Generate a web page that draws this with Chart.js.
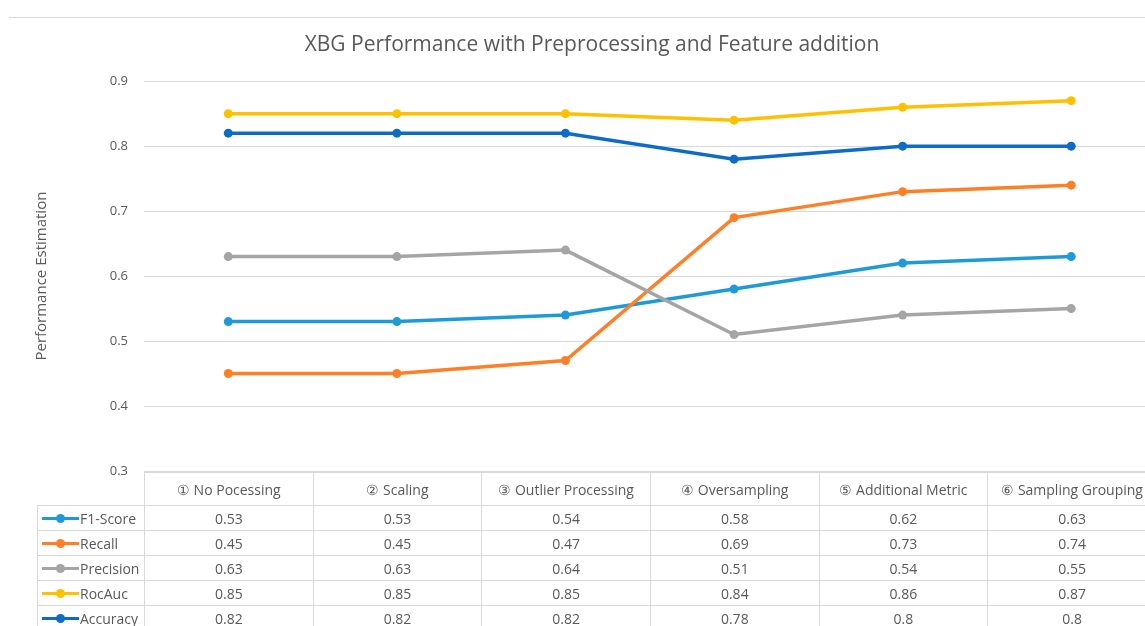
<!DOCTYPE html>
<html>
<head>
<meta charset="utf-8">
<script src="https://cdn.jsdelivr.net/npm/chart.js@4/dist/chart.umd.min.js"></script>
<style>
    html, body { margin: 0; padding: 0; background: #fff; overflow: hidden; }
    #wrap { position: relative; width: 1160px; height: 626px; }
    #topRule { position: absolute; left: 9px; top: 17px; width: 1151px; height: 1px; background: #d9d9d9; }
    #chart { position: absolute; left: 0; top: 0; }
    #dataTable {
        position: absolute; left: 37px; top: 472px;
        border-collapse: collapse; table-layout: fixed;
        font-family: "Open Sans", sans-serif; font-size: 14px; color: #595959;
    }
    #dataTable td { border: 1px solid #d9d9d9; text-align: center; padding: 0; height: 24px; white-space: nowrap; }
    #dataTable tr.head td { height: 32px; }
    #dataTable td.corner { border: none; }
    #dataTable td.key { text-align: left; padding-left: 4px; }
    .swatch { display: inline-block; position: relative; width: 37px; height: 3px; vertical-align: middle; margin-right: 1px; top: -1px; }
    .swatch::after { content: ''; position: absolute; left: 14px; top: -3px; width: 9px; height: 9px; border-radius: 50%; background: inherit; }
</style>
</head>
<body>
<div id="wrap">
    <div id="topRule"></div>
    <canvas id="chart" width="1160" height="626"></canvas>
    <table id="dataTable"></table>
</div>
<script>
const categories = ['① No Pocessing', '② Scaling', '③ Outlier Processing', '④ Oversampling', '⑤ Additional Metric', '⑥ Sampling Grouping'];
const f1Score   = [0.53, 0.53, 0.54, 0.58, 0.62, 0.63];
const recall    = [0.45, 0.45, 0.47, 0.69, 0.73, 0.74];
const precision = [0.63, 0.63, 0.64, 0.51, 0.54, 0.55];
const rocAuc    = [0.85, 0.85, 0.85, 0.84, 0.86, 0.87];
const accuracy  = [0.82, 0.82, 0.82, 0.78, 0.8, 0.8];
const yTicks    = [0.3, 0.4, 0.5, 0.6, 0.7, 0.8, 0.9];

const series = [
    { label: 'F1-Score',  data: f1Score,   color: '#1f9ad9' },
    { label: 'Recall',    data: recall,    color: '#ff7f27' },
    { label: 'Precision', data: precision, color: '#a5a5a5' },
    { label: 'RocAuc',    data: rocAuc,    color: '#ffc000' },
    { label: 'Accuracy',  data: accuracy,  color: '#0f6cc6' },
];

const FONT = '"Open Sans", sans-serif';
const TEXT = '#595959';

// left padding shifts the centred title right (Excel centres it a bit off the canvas middle);
// the y axis box is pinned so the plot starts where the table's first column does
const PAD_LEFT = 28;
const PLOT_LEFT = 144;
const PLOT_RIGHT = 1156;

new Chart(document.getElementById('chart'), {
    type: 'line',
    data: {
        labels: categories,
        datasets: series.map((s, i) => ({
            label: s.label,
            data: s.data,
            borderColor: s.color,
            backgroundColor: s.color,
            borderWidth: 3.5,
            pointRadius: 4.5,
            pointBorderWidth: 0,
            tension: 0,
            order: series.length - i,
        })),
    },
    options: {
        responsive: false,
        animation: false,
        devicePixelRatio: 1,
        layout: { padding: { left: PAD_LEFT, right: 1160 - PLOT_RIGHT, top: 0, bottom: 155 } },
        plugins: {
            legend: { display: false },
            tooltip: { enabled: false },
            title: {
                display: true,
                text: 'XBG Performance with Preprocessing and Feature addition',
                color: TEXT,
                font: { family: FONT, size: 21, weight: 'normal', lineHeight: 1.2 },
                padding: { top: 32, bottom: 24 },
            },
        },
        scales: {
            x: {
                display: false,
                offset: true,
            },
            y: {
                min: 0.3,
                max: 0.9,
                afterBuildTicks: axis => { axis.ticks = yTicks.map(v => ({ value: v })); },
                afterFit: axis => { axis.width = PLOT_LEFT - PAD_LEFT; },
                grid: { color: '#d9d9d9', drawTicks: false },
                border: { display: false },
                ticks: {
                    color: TEXT,
                    padding: 16,
                    font: { family: FONT, size: 13 },
                    callback: v => String(v),
                },
                title: {
                    display: true,
                    text: 'Performance Estimation',
                    color: TEXT,
                    font: { family: FONT, size: 15, lineHeight: 1.2 },
                    padding: { top: 5, bottom: 0 },
                },
            },
        },
    },
});

// data table under the plot, built from the same arrays
const table = document.getElementById('dataTable');
const colW = (PLOT_RIGHT - PLOT_LEFT) / categories.length;
let html = '<colgroup><col style="width:107px">' + categories.map(() => `<col style="width:${colW}px">`).join('') + '</colgroup>';
html += '<tr class="head"><td class="corner"></td>' + categories.map(c => `<td>${c}</td>`).join('') + '</tr>';
series.forEach(s => {
    html += `<tr><td class="key"><span class="swatch" style="background:${s.color}"></span>${s.label}</td>`
        + s.data.map(v => `<td>${v}</td>`).join('') + '</tr>';
});
table.innerHTML = html;
</script>
</body>
</html>
